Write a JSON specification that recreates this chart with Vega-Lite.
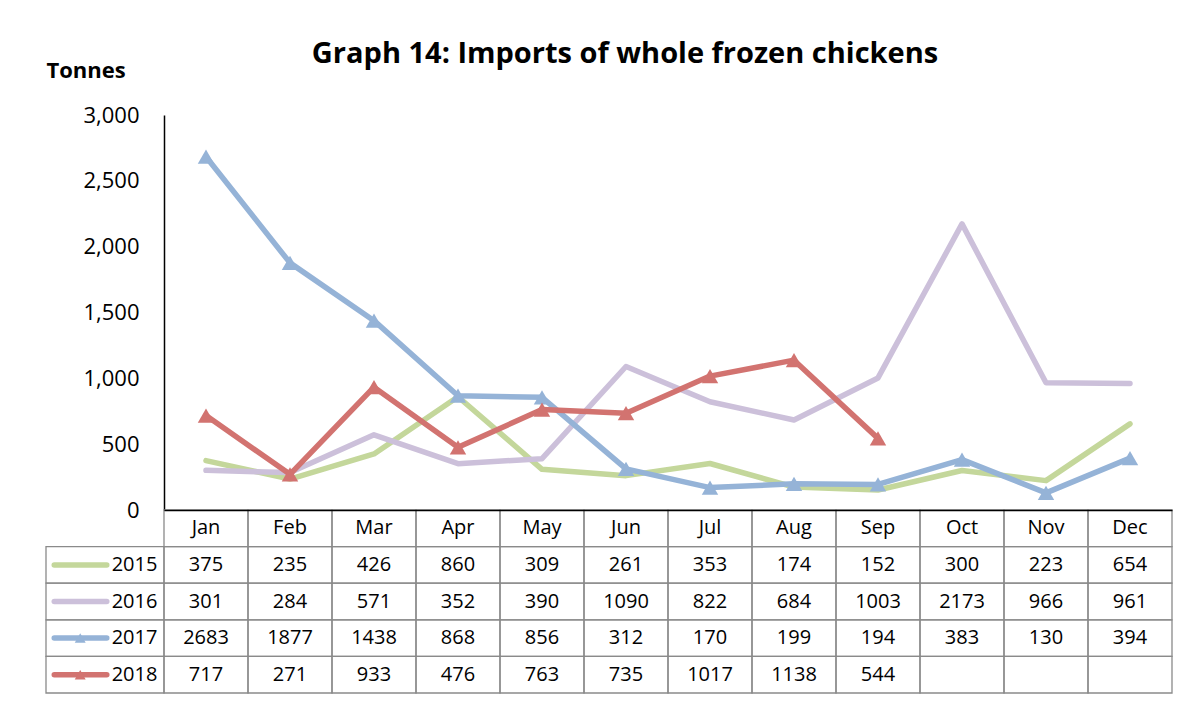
{
  "$schema": "https://vega.github.io/schema/vega-lite/v6.json",
  "background": "white",
  "padding": {"left": 45, "top": 40, "right": 5, "bottom": 5},
  "title": {"text": "Graph 14: Imports of whole frozen chickens", "font": "Open Sans", "fontSize": 29, "fontWeight": "bold", "color": "black", "anchor": "middle", "offset": -10, "dx": 16},
  "config": {"view": {"stroke": null}, "font": "Open Sans"},
  "datasets": {
    "imports": [
      {"month": "Jan", "year": "2015", "value": 375}, {"month": "Feb", "year": "2015", "value": 235}, {"month": "Mar", "year": "2015", "value": 426}, {"month": "Apr", "year": "2015", "value": 860}, {"month": "May", "year": "2015", "value": 309}, {"month": "Jun", "year": "2015", "value": 261}, {"month": "Jul", "year": "2015", "value": 353}, {"month": "Aug", "year": "2015", "value": 174}, {"month": "Sep", "year": "2015", "value": 152}, {"month": "Oct", "year": "2015", "value": 300}, {"month": "Nov", "year": "2015", "value": 223}, {"month": "Dec", "year": "2015", "value": 654},
      {"month": "Jan", "year": "2016", "value": 301}, {"month": "Feb", "year": "2016", "value": 284}, {"month": "Mar", "year": "2016", "value": 571}, {"month": "Apr", "year": "2016", "value": 352}, {"month": "May", "year": "2016", "value": 390}, {"month": "Jun", "year": "2016", "value": 1090}, {"month": "Jul", "year": "2016", "value": 822}, {"month": "Aug", "year": "2016", "value": 684}, {"month": "Sep", "year": "2016", "value": 1003}, {"month": "Oct", "year": "2016", "value": 2173}, {"month": "Nov", "year": "2016", "value": 966}, {"month": "Dec", "year": "2016", "value": 961},
      {"month": "Jan", "year": "2017", "value": 2683}, {"month": "Feb", "year": "2017", "value": 1877}, {"month": "Mar", "year": "2017", "value": 1438}, {"month": "Apr", "year": "2017", "value": 868}, {"month": "May", "year": "2017", "value": 856}, {"month": "Jun", "year": "2017", "value": 312}, {"month": "Jul", "year": "2017", "value": 170}, {"month": "Aug", "year": "2017", "value": 199}, {"month": "Sep", "year": "2017", "value": 194}, {"month": "Oct", "year": "2017", "value": 383}, {"month": "Nov", "year": "2017", "value": 130}, {"month": "Dec", "year": "2017", "value": 394},
      {"month": "Jan", "year": "2018", "value": 717}, {"month": "Feb", "year": "2018", "value": 271}, {"month": "Mar", "year": "2018", "value": 933}, {"month": "Apr", "year": "2018", "value": 476}, {"month": "May", "year": "2018", "value": 763}, {"month": "Jun", "year": "2018", "value": 735}, {"month": "Jul", "year": "2018", "value": 1017}, {"month": "Aug", "year": "2018", "value": 1138}, {"month": "Sep", "year": "2018", "value": 544}, {"month": "Oct", "year": "2018", "value": null}, {"month": "Nov", "year": "2018", "value": null}, {"month": "Dec", "year": "2018", "value": null}
    ]
  },
  "columns": 2,
  "spacing": 0,
  "bounds": "flush",
  "align": "each",
  "resolve": {"scale": {"x": "independent", "y": "independent", "color": "independent"}},
  "concat": [
    {
      "width": 118, "height": 395,
      "data": {"name": "imports"},
      "transform": [{"filter": "false"}],
      "mark": {"type": "text", "text": ""}
    },
    {
      "width": 1008, "height": 395,
      "data": {"name": "imports"},
      "encoding": {
        "x": {"field": "month", "type": "ordinal", "sort": ["Jan","Feb","Mar","Apr","May","Jun","Jul","Aug","Sep","Oct","Nov","Dec"], "scale": {"type": "point", "domain": ["Jan","Feb","Mar","Apr","May","Jun","Jul","Aug","Sep","Oct","Nov","Dec"], "padding": 0.5}, "axis": null},
        "y": {"field": "value", "type": "quantitative", "scale": {"domain": [0, 3000], "nice": false},
          "axis": {"values": [0, 500, 1000, 1500, 2000, 2500, 3000], "format": ",.0f", "grid": false, "ticks": false, "domainColor": "black", "domainWidth": 1.5, "labelFontSize": 22, "labelColor": "black", "labelPadding": 25, "labelFont": "Open Sans",
            "title": "Tonnes", "titleAngle": 0, "titleAlign": "left", "titleBaseline": "alphabetic", "titleX": -118, "titleY": -38, "titleFontSize": 22, "titleFontWeight": "bold", "titleColor": "black", "titleFont": "Open Sans"}},
        "color": {"field": "year", "type": "nominal", "scale": {"domain": ["2015","2016","2017","2018"], "range": ["#C4D79B","#CCC0DA","#95B3D7","#D27370"]}, "legend": null}
      },
      "layer": [
        {"mark": {"type": "line", "strokeWidth": 5.5, "strokeCap": "round", "strokeJoin": "round"}},
        {"transform": [{"filter": {"field": "year", "oneOf": ["2017","2018"]}}], "mark": {"type": "point", "shape": "triangle-up", "filled": true, "size": 270, "opacity": 1}}
      ]
    },
    {
      "width": 118, "height": 183,
      "data": {"name": "imports"},
      "transform": [{"filter": {"field": "month", "equal": "Jan"}}],
      "layer": [
        {"mark": {"type": "rect", "filled": false, "color": "#8a8a8a", "strokeWidth": 1.3},
         "encoding": {"y": {"field": "year", "type": "nominal", "scale": {"domain": ["Month","2015","2016","2017","2018"], "paddingInner": 0, "paddingOuter": 0}, "axis": null}}},
        {"mark": {"type": "rule", "strokeWidth": 5.5, "strokeCap": "round"},
         "encoding": {
           "x": {"datum": "key", "type": "nominal", "bandPosition": 0.14, "scale": {"domain": ["key","label"], "paddingInner": 0, "paddingOuter": 0}, "axis": null},
           "x2": {"datum": "key", "bandPosition": 1.03},
           "y": {"field": "year", "type": "nominal", "bandPosition": 0.5, "axis": null},
           "color": {"field": "year", "type": "nominal", "scale": {"domain": ["2015","2016","2017","2018"], "range": ["#C4D79B","#CCC0DA","#95B3D7","#D27370"]}, "legend": null}}},
        {"transform": [{"filter": {"field": "year", "oneOf": ["2017","2018"]}}],
         "mark": {"type": "point", "shape": "triangle-up", "filled": true, "size": 120, "opacity": 1},
         "encoding": {
           "x": {"datum": "key", "type": "nominal", "bandPosition": 0.58, "axis": null},
           "y": {"field": "year", "type": "nominal", "bandPosition": 0.5, "axis": null},
           "color": {"field": "year", "type": "nominal", "scale": {"domain": ["2015","2016","2017","2018"], "range": ["#C4D79B","#CCC0DA","#95B3D7","#D27370"]}, "legend": null}}},
        {"mark": {"type": "text", "fontSize": 20, "color": "black", "align": "center", "baseline": "middle"},
         "encoding": {
           "x": {"datum": "label", "type": "nominal", "bandPosition": 0.5, "axis": null},
           "y": {"field": "year", "type": "nominal", "bandPosition": 0.5, "axis": null},
           "text": {"field": "year", "type": "nominal"}}}
      ]
    },
    {
      "width": 1008, "height": 183,
      "data": {"name": "imports"},
      "encoding": {
        "x": {"field": "month", "type": "ordinal", "sort": ["Jan","Feb","Mar","Apr","May","Jun","Jul","Aug","Sep","Oct","Nov","Dec"], "scale": {"type": "band", "domain": ["Jan","Feb","Mar","Apr","May","Jun","Jul","Aug","Sep","Oct","Nov","Dec"], "paddingInner": 0, "paddingOuter": 0},
          "axis": {"orient": "top", "labels": false, "ticks": false, "title": null, "domainColor": "black", "domainWidth": 1.5, "zindex": 1}}
      },
      "layer": [
        {"mark": {"type": "rect", "filled": false, "color": "#8a8a8a", "strokeWidth": 1.3},
         "encoding": {"y": {"field": "year", "type": "nominal", "scale": {"domain": ["Month","2015","2016","2017","2018"], "paddingInner": 0, "paddingOuter": 0}, "axis": null}}},
        {"transform": [{"filter": "datum.value != null"}],
         "mark": {"type": "text", "fontSize": 20, "color": "black", "align": "center", "baseline": "middle"},
         "encoding": {"y": {"field": "year", "type": "nominal", "axis": null}, "text": {"field": "value", "type": "quantitative", "format": "d"}}},
        {"transform": [{"filter": {"field": "year", "equal": "2015"}}],
         "mark": {"type": "rect", "filled": false, "color": "#8a8a8a", "strokeWidth": 1.3},
         "encoding": {"y": {"datum": "Month", "type": "nominal", "axis": null}}},
        {"transform": [{"filter": {"field": "year", "equal": "2015"}}],
         "mark": {"type": "text", "fontSize": 20, "color": "black", "align": "center", "baseline": "middle"},
         "encoding": {"y": {"datum": "Month", "type": "nominal", "axis": null}, "text": {"field": "month", "type": "nominal"}}}
      ]
    }
  ]
}
